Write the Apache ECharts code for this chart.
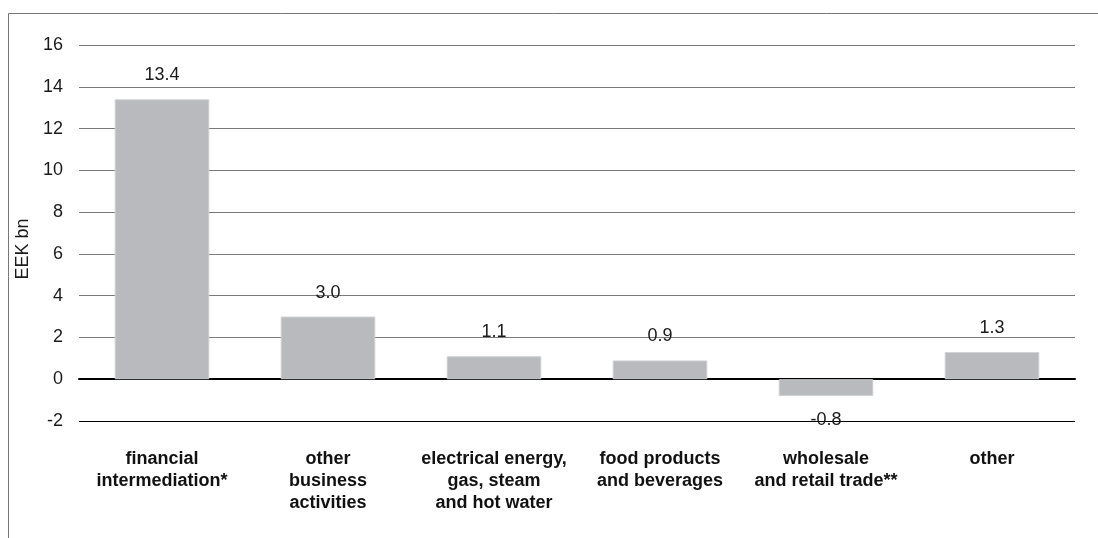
<!DOCTYPE html>
<html>
<head>
<meta charset="utf-8">
<script src="https://cdn.jsdelivr.net/npm/echarts@6/dist/echarts.min.js"></script>
<style>
  html, body { margin: 0; padding: 0; background: #fff; }
  #chart { width: 1098px; height: 538px; }
</style>
</head>
<body>
<div id="chart"></div>
<script>
// Sectors and their values (EEK bn)
const categories = [
  'financial\nintermediation*',
  'other\nbusiness\nactivities',
  'electrical energy,\ngas, steam\nand hot water',
  'food products\nand beverages',
  'wholesale\nand retail trade**',
  'other'
];
const values = [13.4, 3.0, 1.1, 0.9, -0.8, 1.3];
const yTicks = { min: -2, max: 16, interval: 2 };
const yAxisName = 'EEK bn';

const font = '"Liberation Sans", Arial, Helvetica, sans-serif';

// Grid line colours: the -2 and 0 lines are black, the rest grey
const nLines = (yTicks.max - yTicks.min) / yTicks.interval + 1;
const splitColors = [];
for (let i = 0; i < nLines; i++) splitColors.push(i < 2 ? '#000000' : '#7a7a7a');

const chart = echarts.init(document.getElementById('chart'), null, { renderer: 'canvas' });
chart.setOption({
  animation: false,
  backgroundColor: '#ffffff',
  // panel frame: only its top and left edges fall inside the page
  graphic: [{
    type: 'rect',
    silent: true,
    shape: { x: 8.5, y: 13.5, width: 1200, height: 700 },
    style: { fill: 'none', stroke: '#777777', lineWidth: 1 }
  }],
  grid: { left: 79, right: 23, top: 45, bottom: 117 },
  xAxis: {
    type: 'category',
    data: categories,
    axisLine: { show: true, onZero: true, lineStyle: { color: '#000', width: 2 } },
    axisTick: { show: false },
    axisLabel: {
      interval: 0,
      margin: 27,
      fontFamily: font,
      fontSize: 18,
      fontWeight: 'bold',
      color: '#111111',
      lineHeight: 22
    }
  },
  yAxis: {
    type: 'value',
    min: yTicks.min,
    max: yTicks.max,
    interval: yTicks.interval,
    name: yAxisName,
    nameLocation: 'middle',
    nameRotate: 90,
    nameGap: 40,
    nameTextStyle: { fontFamily: font, fontSize: 18, color: '#1a1a1a', padding: [0, 32, 0, 0] },
    axisLine: { show: false },
    axisTick: { show: false },
    axisLabel: { fontFamily: font, fontSize: 18, color: '#1a1a1a', margin: 16 },
    splitLine: { show: true, lineStyle: { color: splitColors, width: 1 } }
  },
  series: [{
    type: 'bar',
    data: values.map(v => ({
      value: v,
      label: { position: v < 0 ? 'bottom' : 'top', distance: v < 0 ? 15 : 15 }
    })),
    barWidth: '57%',
    itemStyle: { color: '#b9babd', borderColor: '#cfd0d2', borderWidth: 1 },
    label: {
      show: true,
      fontFamily: font,
      fontSize: 18,
      color: '#1a1a1a',
      formatter: p => p.value.toFixed(1)
    }
  }]
});
</script>
</body>
</html>
